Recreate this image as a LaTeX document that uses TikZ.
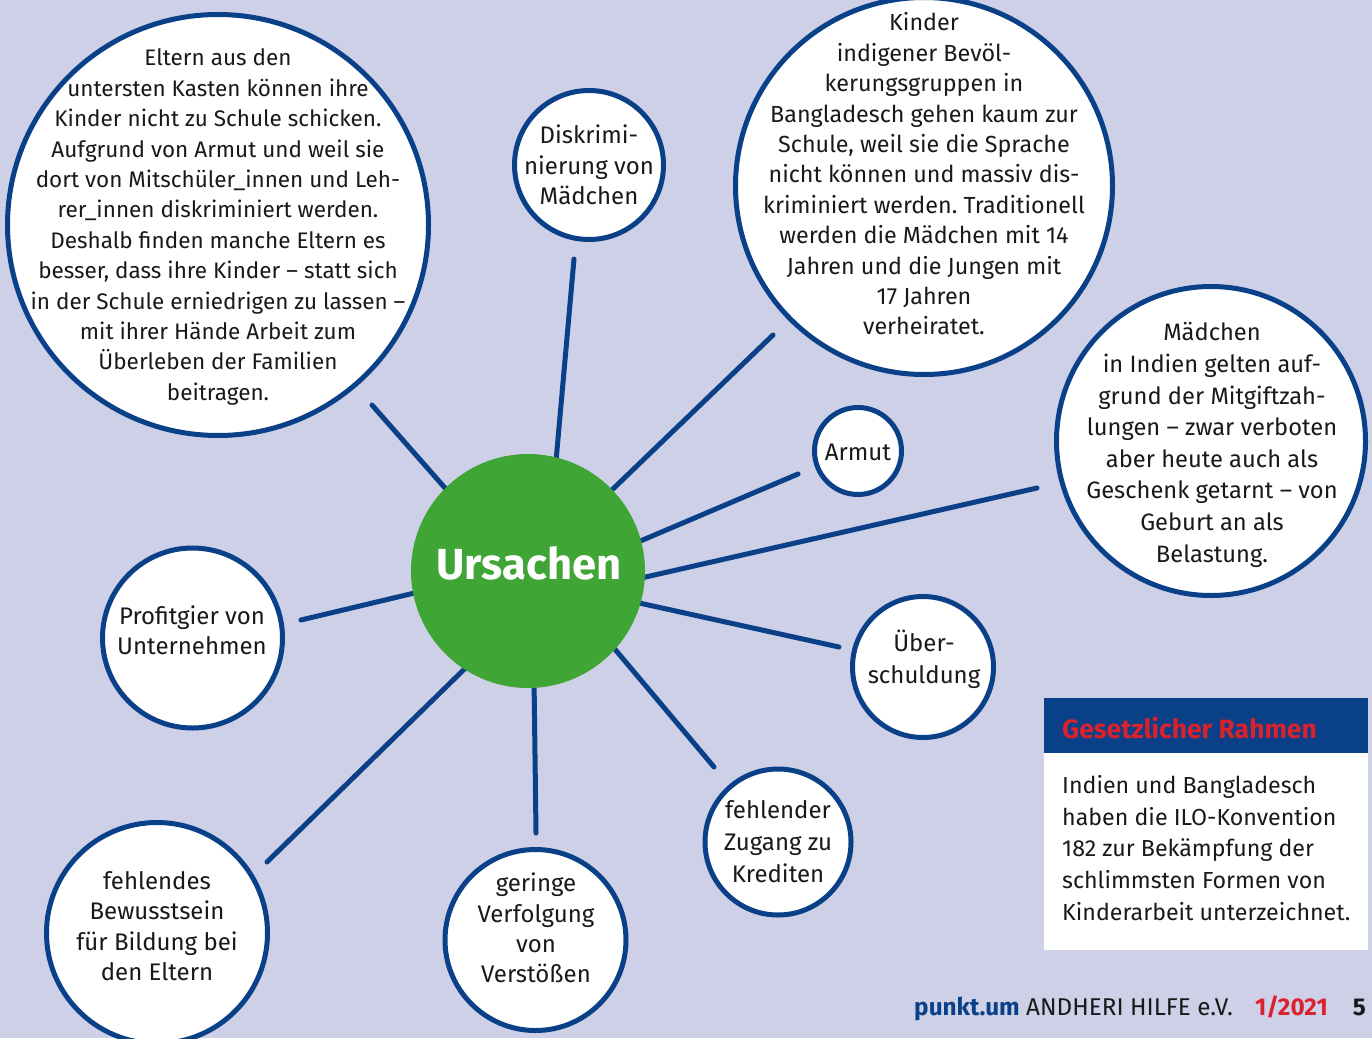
\documentclass[tikz,border=0pt]{standalone}
\usepackage{fontspec}
\setmainfont{Fira Sans}
\frenchspacing
\definecolor{bgc}{RGB}{205,208,231}
\definecolor{navy}{RGB}{10,64,136}
\definecolor{grn}{RGB}{63,166,53}
\definecolor{redc}{RGB}{218,34,44}
\definecolor{txt}{RGB}{25,25,25}
\pgfdeclarelayer{bglayer}
\pgfdeclarelayer{linelayer}
\pgfsetlayers{bglayer,linelayer,main}
\begin{document}
\begin{tikzpicture}[x=1pt,y=-1pt,
  circ/.style={circle,draw=navy,line width=5pt,fill=white,inner sep=0pt},
  ctext/.style={align=center,text=txt,inner sep=0pt,font=\fontsize{24}{30.4}\selectfont},
  spoke/.style={draw=navy,line width=5pt,line cap=round,shorten <=-12pt}]
\useasboundingbox (0,0) rectangle (1372,1038);
\begin{pgfonlayer}{bglayer}
\fill[bgc] (0,0) rectangle (1372,1038);
\end{pgfonlayer}

% circles
\node[circ,minimum size=421pt] (big) at (218,225) {};
\node[circ,minimum size=149pt] (disk) at (589,165) {};
\node[circ,minimum size=377pt] (kind) at (924,186) {};
\node[circ,minimum size=309pt] (maed) at (1211,441) {};
\node[circ,minimum size=87pt] (arm) at (858,451) {};
\node[circ,minimum size=180pt] (prof) at (192.5,638) {};
\node[circ,minimum size=141pt] (ueb) at (923,667) {};
\node[circ,minimum size=146pt] (zug) at (778,842) {};
\node[circ,minimum size=181pt] (ger) at (535.5,940) {};
\node[circ,minimum size=221pt] (bew) at (157,933) {};
\node[circle,fill=grn,inner sep=0pt,minimum size=234pt] (ur) at (528,571) {};

% connector free ends
\coordinate (eBig) at (372,405);
\coordinate (eDisk) at (574,259);
\coordinate (eKind) at (773,335);
\coordinate (eArm) at (798,474);
\coordinate (eMaed) at (1037,488);
\coordinate (eUeb) at (839,647);
\coordinate (eZug) at (714,767);
\coordinate (eGer) at (536,833);
\coordinate (eBew) at (267,862);
\coordinate (eProf) at (301,620);

\begin{pgfonlayer}{linelayer}
\draw[spoke] (ur.135.3) -- (eBig);
\draw[spoke] (ur.76) -- (eDisk);
\draw[spoke] (ur.44) -- (eKind);
\draw[spoke] (ur.15.3) -- (eArm);
\draw[spoke] (ur.-3.4) -- (eMaed);
\draw[spoke] (ur.-16.9) -- (eUeb);
\draw[spoke] (ur.-42.9) -- (eZug);
\draw[spoke] (ur.-87.5) -- (eGer);
\draw[spoke] (ur.-123) -- (eBew);
\draw[spoke] (ur.-169.3) -- (eProf);
\end{pgfonlayer}

% texts
\node[ctext,font=\fontsize{22.5}{30.4}\selectfont] (tbig) at (218,227) {Eltern aus den\\
untersten Kasten können ihre\\
Kinder nicht zu Schule schicken.\\
Aufgrund von Armut und weil sie\\
dort von Mitschüler\_innen und Leh-\\
rer\_innen diskriminiert werden.\\
Deshalb finden manche Eltern es\\
besser, dass ihre Kinder – statt sich\\
in der Schule erniedrigen zu lassen –\\
mit ihrer Hände Arbeit zum\\
Überleben der Familien\\
beitragen.};
\node[ctext] (tdisk) at (589,165) {Diskrimi-\\nierung von\\Mädchen};
\node[ctext,font=\fontsize{23.3}{30.4}\selectfont] (tkind) at (924,174) {Kinder\\
indigener Bevöl-\\
kerungsgruppen in\\
Bangladesch gehen kaum zur\\
Schule, weil sie die Sprache\\
nicht können und massiv dis-\\
kriminiert werden. Traditionell\\
werden die Mädchen mit 14\\
Jahren und die Jungen mit\\
17 Jahren\\
verheiratet.};
\node[ctext,font=\fontsize{23.7}{31.6}\selectfont] (tmaed) at (1212,445) {Mädchen\\
in Indien gelten auf-\\
grund der Mitgiftzah-\\
lungen – zwar verboten\\
aber heute auch als\\
Geschenk getarnt – von\\
Geburt an als\\
Belastung.};
\node[ctext] (tarm) at (858,452) {Armut};
\node[ctext] (tprof) at (192,630) {Profitgier von\\Unternehmen};
\node[ctext,font=\fontsize{24}{32}\selectfont] (tueb) at (924,659) {Über-\\schuldung};
\node[ctext,font=\fontsize{24}{32}\selectfont] (tzug) at (778,842) {fehlender\\Zugang zu\\Krediten};
\node[ctext] (tger) at (536,928) {geringe\\Verfolgung\\von\\Verstößen};
\node[ctext] (tbew) at (157,926) {fehlendes\\Bewusstsein\\für Bildung bei\\den Eltern};
\node[text=white,inner sep=0pt,anchor=base,font=\bfseries\fontsize{43.5}{50}\selectfont] (tur) at (529,579) {Ursachen};

% legal box
\node[fill=navy,inner sep=0pt,minimum width=324pt,minimum height=55pt,anchor=north west] (hdr) at (1044,698) {};
\node[fill=white,inner sep=0pt,minimum width=324pt,minimum height=197pt,anchor=north west] (body) at (1044,753) {};
\node[anchor=west,inner sep=0pt,text=redc,font=\bfseries\fontsize{26.5}{30}\selectfont] (hdrt) at (1062,728) {Gesetzlicher Rahmen};
\node[anchor=north west,align=left,inner sep=0pt,text=txt,font=\fontsize{23.2}{31.8}\selectfont] (bodyt) at (1062,775) {Indien und Bangladesch\\
haben die ILO-Konvention\\
182 zur Bekämpfung der\\
schlimmsten Formen von\\
Kinderarbeit unterzeichnet.};

% footer
\node[anchor=base east,inner sep=0pt,text=txt,font=\fontsize{24.3}{28}\selectfont] (foot) at (1366,1015) {\textcolor{navy}{\bfseries punkt.um} ANDHERI HILFE e.V.\hspace{22pt}\textcolor{redc}{\bfseries 1/2021}\hspace{25pt}{\bfseries 5}};
\end{tikzpicture}
\end{document}
